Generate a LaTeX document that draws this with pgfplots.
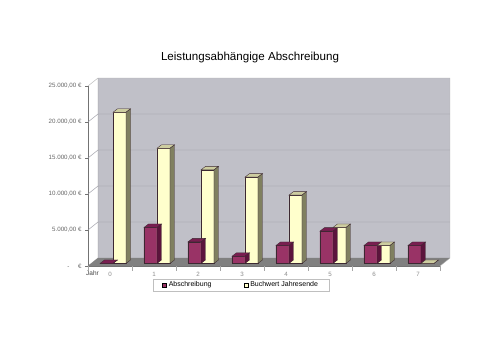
\documentclass[border=0pt]{standalone}
\usepackage{pgfplots}
\pgfplotsset{compat=1.18}
\usepackage{pgfplotstable}
\usepackage{fontspec}
\setmainfont{Liberation Sans}

\definecolor{wallcol}{RGB}{192,192,200}
\definecolor{gridcol}{RGB}{150,150,160}
\definecolor{floorcol}{RGB}{128,128,128}
\definecolor{edgecol}{RGB}{60,40,50}
\definecolor{absFront}{RGB}{153,51,102}
\definecolor{absTop}{RGB}{120,30,80}
\definecolor{absSide}{RGB}{92,20,60}
\definecolor{buchFront}{RGB}{255,255,204}
\definecolor{buchTop}{RGB}{205,205,160}
\definecolor{buchSide}{RGB}{128,128,96}

\pgfplotstableread{
x abs buch
0 0 21000
1 5000 16000
2 3000 13000
3 1000 12000
4 2500 9500
5 4500 5000
6 2500 2500
7 2500 0
}\datatable

% top and side faces of a 3D bar; #1 left, #2 right edge of the front face (bp)
\newcommand\prismfaces[4]{%
  \pgfsetlinewidth{0.35bp}\pgfsetstrokecolor{edgecol}%
  \pgfsetfillcolor{#3}%
  \pgfpathmoveto{\pgfpoint{#1bp}{0bp}}%
  \pgfpathlineto{\pgfpoint{#2bp}{0bp}}%
  \pgfpathlineto{\pgfpoint{\dimexpr#2bp+4.5bp\relax}{3.5bp}}%
  \pgfpathlineto{\pgfpoint{\dimexpr#1bp+4.5bp\relax}{3.5bp}}%
  \pgfpathclose\pgfusepath{fill,stroke}%
  \pgfsetfillcolor{#4}%
  \pgfpathmoveto{\pgfpoint{#2bp}{0bp}}%
  \pgfpathlineto{\pgfpoint{\dimexpr#2bp+4.5bp\relax}{3.5bp}}%
  \pgfpathlineto{\pgfpoint{\dimexpr#2bp+4.5bp\relax}{\dimexpr3.5bp-\barh bp\relax}}%
  \pgfpathlineto{\pgfpoint{#2bp}{\dimexpr-\barh bp\relax}}%
  \pgfpathclose\pgfusepath{fill,stroke}%
}
\pgfdeclareplotmark{absprism}{\prismfaces{-10}{3}{absTop}{absSide}}
\pgfdeclareplotmark{buchprism}{\prismfaces{3}{16}{buchTop}{buchSide}}

\pgfplotsset{mylegend/.style={legend image code/.code={%
  \draw[##1,yshift=-2.5bp,draw=black,line width=0.3bp] (0bp,-2.2bp) rectangle (4.4bp,2.2bp);}}}

\begin{document}
\begin{tikzpicture}
\useasboundingbox (0,0) rectangle (500bp,353bp);
\node[anchor=base] at (250bp,292bp) {\fontsize{11.6bp}{14bp}\selectfont Leistungsabhängige Abschreibung};
\node[text=black!75] at (92.5bp,79.5bp) {\fontsize{6.5bp}{7bp}\selectfont Jahr};
\begin{axis}[
  at={(88bp,87bp)}, anchor=south west, scale only axis,
  width=352bp, height=180bp,
  xmin=-0.5, xmax=7.5, ymin=0, ymax=25000, clip=false,
  scaled y ticks=false,
  axis x line*=bottom, axis y line*=left,
  axis line style={draw=black!55, line width=0.4bp},
  tick align=outside,
  ytick={0,5000,10000,15000,20000,25000},
  yticklabels={{-\hspace{8.5bp}€},{5.000,00 €},{10.000,00 €},{15.000,00 €},{20.000,00 €},{25.000,00 €}},
  ytick style={draw=black!55, line width=0.4bp},
  major tick length=3bp,
  xtick={0,...,7},
  xticklabels={0,1,2,3,4,5,6,7},
  xtick style={draw=none},
  extra x ticks={-0.5,0.5,1.5,2.5,3.5,4.5,5.5,6.5,7.5},
  extra x tick labels={},
  extra x tick style={xtick style={draw=black!35, line width=0.4bp}, major tick length=5bp},
  yticklabel style={font=\fontsize{6.2bp}{7bp}\selectfont, text=black!60},
  xticklabel style={font=\fontsize{6.2bp}{7bp}\selectfont, text=black!45},
  legend columns=2,
  legend style={at={(0.4347,-0.1056)}, anchor=center, draw=black!25, fill=white,
    font=\fontsize{7bp}{8bp}\selectfont, inner xsep=9bp, inner ysep=1bp,
    /tikz/every even column/.append style={column sep=30bp}},
]
% back wall
\fill[wallcol] (axis cs:-0.2727,1111.1) rectangle (axis cs:7.7273,26111.1);
\draw[gridcol, line width=0.4bp]
  (axis cs:-0.5,5000) -- (axis cs:-0.2727,6111.1) -- (axis cs:7.7273,6111.1)
  (axis cs:-0.5,10000) -- (axis cs:-0.2727,11111.1) -- (axis cs:7.7273,11111.1)
  (axis cs:-0.5,15000) -- (axis cs:-0.2727,16111.1) -- (axis cs:7.7273,16111.1)
  (axis cs:-0.5,20000) -- (axis cs:-0.2727,21111.1) -- (axis cs:7.7273,21111.1);
\draw[black!30, line width=0.4bp] (axis cs:-0.5,25000) -- (axis cs:-0.2727,26111.1) -- (axis cs:7.7273,26111.1) -- (axis cs:7.7273,1111.1);
\draw[black!45, line width=0.4bp] (axis cs:-0.5,0) -- (axis cs:-0.2727,1111.1) -- (axis cs:-0.2727,26111.1);
% floor
\fill[floorcol] (axis cs:-0.5,0) -- (axis cs:7.5,0) -- (axis cs:7.7273,1111.1) -- (axis cs:-0.2727,1111.1) -- cycle;
\draw[black!30, line width=0.4bp] (axis cs:7.5,0) -- (axis cs:7.7273,1111.1);

\addplot[ybar, bar width=13bp, bar shift=-3.5bp, fill=absFront, draw=edgecol, line width=0.35bp, yshift=2.5bp, mylegend] table[x=x,y=abs]{\datatable};
\addlegendentry{Abschreibung}
\addplot[only marks, mark=absprism, yshift=2.5bp, forget plot,
  visualization depends on={rawy*0.0072 \as \barh}] table[x=x,y=abs]{\datatable};
\addplot[ybar, bar width=13bp, bar shift=9.5bp, fill=buchFront, draw=edgecol, line width=0.35bp, yshift=2.5bp, mylegend] table[x=x,y=buch]{\datatable};
\addlegendentry{Buchwert Jahresende}
\addplot[only marks, mark=buchprism, yshift=2.5bp, forget plot,
  visualization depends on={rawy*0.0072 \as \barh}] table[x=x,y=buch]{\datatable};
\end{axis}
\end{tikzpicture}
\end{document}
